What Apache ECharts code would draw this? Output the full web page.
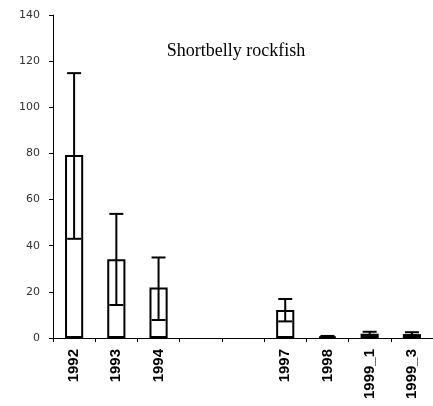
<!DOCTYPE html>
<html>
<head>
<meta charset="utf-8">
<script src="https://cdn.jsdelivr.net/npm/echarts@6/dist/echarts.min.js"></script>
<style>html,body{margin:0;padding:0;background:#fff}#c{width:433px;height:406px}</style>
</head>
<body>
<div id="c"></div>
<script>
var categories = ['1992', '1993', '1994', '', '', '1997', '1998', '1999_1', '1999_3'];
var values     = [79.3, 34.1, 21.9, null, null, 12.1, 0.6, 1.8, 1.7];
var lowerErr   = [43, 14.3, 7.8, null, null, 7.2, 0.3, 0.8, 1.0];
var upperErr   = [114.8, 53.8, 34.9, null, null, 16.9, 0.9, 2.7, 2.5];
var yTicks = { min: 0, max: 140, interval: 20 };

var errData = [];
for (var i = 0; i < categories.length; i++) {
  if (lowerErr[i] != null) errData.push([i, lowerErr[i], upperErr[i]]);
}

var chart = echarts.init(document.getElementById('c'));
chart.setOption({
  animation: false,
  backgroundColor: '#fff',
  title: {
    text: 'Shortbelly rockfish',
    left: 231, top: 37, textAlign: 'center',
    textStyle: { fontFamily: 'Liberation Serif', fontWeight: 'normal', fontSize: 18, color: '#000' }
  },
  grid: { left: 53, right: 0, top: 15, bottom: 68, containLabel: false },
  xAxis: {
    type: 'category',
    data: categories,
    axisLine: { lineStyle: { color: '#000', width: 1 } },
    axisTick: { show: true, length: 4, inside: false, alignWithLabel: false, interval: 0, lineStyle: { color: '#000' } },
    axisLabel: { rotate: 90, interval: 0, margin: 11, fontFamily: 'Liberation Sans', fontWeight: 'bold', fontSize: 15, color: '#000' },
    splitLine: { show: false }
  },
  yAxis: {
    type: 'value',
    min: yTicks.min, max: yTicks.max, interval: yTicks.interval,
    axisLine: { show: true, lineStyle: { color: '#000', width: 1 } },
    axisTick: { show: true, length: 4, lineStyle: { color: '#000' } },
    axisLabel: { margin: 13, fontFamily: 'DejaVu Sans', fontSize: 11, color: '#333' },
    splitLine: { show: false }
  },
  series: [
    {
      type: 'bar',
      data: values,
      barWidth: '43%',
      itemStyle: { color: '#fff', borderColor: '#000', borderWidth: 2 }
    },
    {
      type: 'custom',
      data: errData,
      z: 5,
      renderItem: function (params, api) {
        var x = api.value(0);
        var lo = api.coord([x, api.value(1)]);
        var hi = api.coord([x, api.value(2)]);
        var hw = 7;
        var st = { stroke: '#000', lineWidth: 2 };
        return {
          type: 'group',
          children: [
            { type: 'line', shape: { x1: lo[0], y1: lo[1], x2: hi[0], y2: hi[1] }, style: st },
            { type: 'line', shape: { x1: hi[0] - hw, y1: hi[1], x2: hi[0] + hw, y2: hi[1] }, style: st },
            { type: 'line', shape: { x1: lo[0] - hw, y1: lo[1], x2: lo[0] + hw, y2: lo[1] }, style: st }
          ]
        };
      }
    }
  ]
});
</script>
</body>
</html>
